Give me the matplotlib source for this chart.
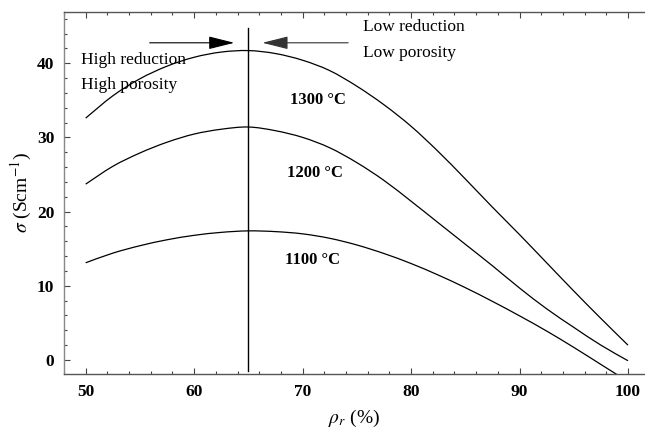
import matplotlib
matplotlib.use("Agg")
import matplotlib.pyplot as plt
from matplotlib.path import Path
from matplotlib.patches import PathPatch
from matplotlib.ticker import MultipleLocator

plt.rcParams['font.family'] = ['Liberation Serif', 'DejaVu Serif']
plt.rcParams['mathtext.fontset'] = 'stix'

# relative density (%)
rho_r = [50, 52.5, 55, 57.5, 60, 62.5, 65, 67.5, 70, 72.5, 75,
         77.5, 80, 82.5, 85, 87.5, 90, 92.5, 95, 97.5, 100]

# conductivity (S/cm) for each sintering temperature
sigma_1300 = [32.6, 35.6, 37.9, 39.6, 40.8, 41.5, 41.7, 41.3, 40.4, 39.0, 36.9,
              34.4, 31.5, 28.1, 24.4, 20.6, 16.9, 13.1, 9.3, 5.6, 2.0]
sigma_1200 = [23.7, 26.1, 27.9, 29.35, 30.45, 31.1, 31.4, 30.9, 30.0, 28.6, 26.6,
              24.2, 21.4, 18.5, 15.6, 12.7, 9.7, 6.9, 4.4, 2.0, -0.1]
sigma_1100 = [13.1, 14.4, 15.4, 16.2, 16.8, 17.2, 17.4, 17.3, 17.0, 16.4, 15.5,
              14.35, 13.0, 11.45, 9.75, 7.9, 5.95, 3.9, 1.7, -0.6, -2.9]

curve_labels = ['1300 \u00b0C', '1200 \u00b0C', '1100 \u00b0C']
label_pos = [(68.8, 35.0), (68.6, 25.2), (68.4, 13.5)]
optimum_rho = 65


def smooth_path(xs, ys):
    """Catmull-Rom curve through the points, as cubic Bezier segments."""
    pts = list(zip(xs, ys))
    n = len(pts)
    verts = [pts[0]]
    codes = [Path.MOVETO]
    for i in range(n - 1):
        p0 = pts[max(i - 1, 0)]
        p1 = pts[i]
        p2 = pts[i + 1]
        p3 = pts[min(i + 2, n - 1)]
        c1 = (p1[0] + (p2[0] - p0[0]) / 6, p1[1] + (p2[1] - p0[1]) / 6)
        c2 = (p2[0] - (p3[0] - p1[0]) / 6, p2[1] - (p3[1] - p1[1]) / 6)
        verts += [c1, c2, p2]
        codes += [Path.CURVE4] * 3
    return Path(verts, codes)


fig = plt.figure(figsize=(6.45, 4.29), dpi=100)
ax = fig.add_axes([64 / 645, 1 - 374 / 429, (645 - 64) / 645, (374 - 12) / 429])

for s in (sigma_1300, sigma_1200, sigma_1100):
    ax.add_patch(PathPatch(smooth_path(rho_r, s), facecolor='none',
                           edgecolor='black', lw=0.9))

for txt, (x, y) in zip(curve_labels, label_pos):
    ax.text(x, y, txt, fontsize=12, fontweight='bold', ha='left', va='center')

# optimum density marker
ax.plot([optimum_rho, optimum_rho], [-1.5, 44.7], color='black', lw=1.0)

ax.annotate('', xy=(63.7, 42.75), xytext=(55.9, 42.75),
            arrowprops=dict(arrowstyle='-|>,head_length=1.6,head_width=0.4',
                            color='black', lw=0.8, shrinkA=0, shrinkB=0))
ax.annotate('', xy=(66.3, 42.75), xytext=(74.2, 42.75),
            arrowprops=dict(arrowstyle='-|>,head_length=1.6,head_width=0.4',
                            color='#333333', lw=0.8, shrinkA=0, shrinkB=0))

ax.text(49.6, 40.4, 'High reduction', fontsize=12.5, ha='left', va='center')
ax.text(49.6, 37.1, 'High porosity', fontsize=12.5, ha='left', va='center')
ax.text(75.6, 44.9, 'Low reduction', fontsize=12.5, ha='left', va='center')
ax.text(75.6, 41.4, 'Low porosity', fontsize=12.5, ha='left', va='center')

ax.set_xlim(48.0, 101.57)
ax.set_ylim(-1.89, 46.9)

ax.xaxis.set_major_locator(MultipleLocator(10))
ax.xaxis.set_minor_locator(MultipleLocator(2))
ax.yaxis.set_major_locator(MultipleLocator(10))
ax.yaxis.set_minor_locator(MultipleLocator(2))

ax.tick_params(which='both', direction='in', top=True, right=False,
               labeltop=False, color='#444444', width=0.8)
ax.tick_params(which='major', length=4)
ax.tick_params(which='minor', length=2.5)
ax.tick_params(axis='x', which='major', pad=7)
ax.tick_params(axis='y', which='major', pad=7)

for lab in ax.get_xticklabels() + ax.get_yticklabels():
    lab.set_fontsize(12.5)
    lab.set_fontweight('bold')

ax.spines['right'].set_visible(False)
ax.spines['left'].set_color('#888888')
ax.spines['bottom'].set_color('#555555')
ax.spines['top'].set_color('#555555')
for sp in ('left', 'bottom', 'top'):
    ax.spines[sp].set_linewidth(1.0)

ax.set_xlabel(r'$\rho_r$ (%)', fontsize=14, labelpad=6)
ax.set_ylabel(r'$\sigma$ (Scm$^{-1}$)', fontsize=14, labelpad=2)

fig.savefig('out.png', dpi=100)
